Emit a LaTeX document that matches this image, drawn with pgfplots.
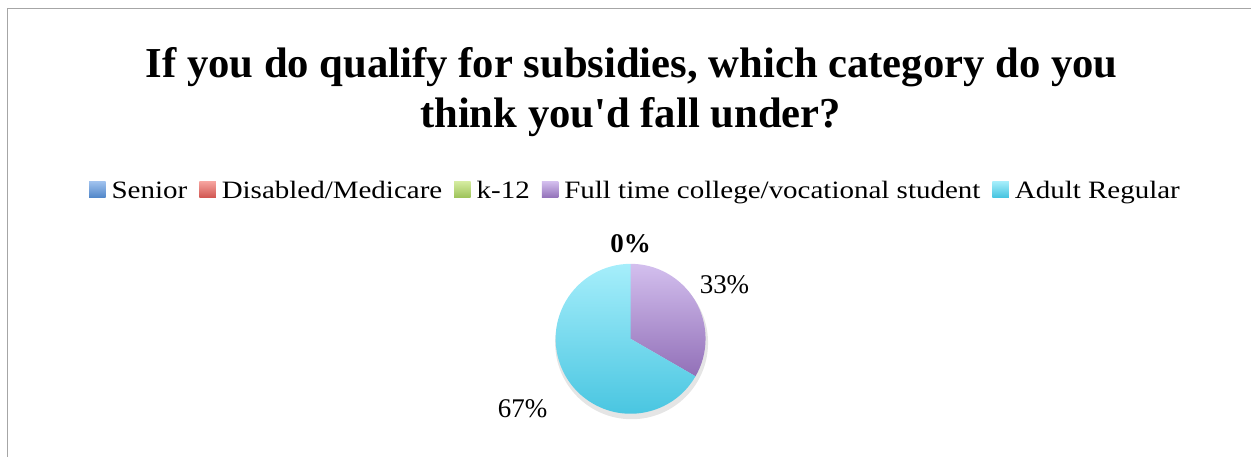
\documentclass[border=0pt]{standalone}
\usepackage{fontspec}
\setmainfont{Liberation Serif}
\newfontfamily\legfont[FakeStretch=1.16]{Liberation Serif}
\usepackage{pgfplots}
\pgfplotsset{compat=1.18}
\usepackage{pgfplotstable}

\definecolor{seniorT}{HTML}{A0C2EE}\definecolor{seniorB}{HTML}{4F85C8}
\definecolor{disT}{HTML}{F6A49F}\definecolor{disB}{HTML}{D0544F}
\definecolor{kT}{HTML}{D5ECA0}\definecolor{kB}{HTML}{9CC258}
\definecolor{fullT}{HTML}{D3BFEE}\definecolor{fullB}{HTML}{9270B8}
\definecolor{adultT}{HTML}{A6EEFB}\definecolor{adultB}{HTML}{43C3DF}
\definecolor{frame}{HTML}{A6A6A6}

\pgfplotstableread{
label value
Senior 0
Disabled 0
k12 0
Fulltime 1
Adult 2
}\piedata

\begin{document}
\begin{tikzpicture}
\pgfplotstablegetelem{0}{value}\of\piedata \pgfmathsetmacro\vSen{\pgfplotsretval}
\pgfplotstablegetelem{1}{value}\of\piedata \pgfmathsetmacro\vDis{\pgfplotsretval}
\pgfplotstablegetelem{2}{value}\of\piedata \pgfmathsetmacro\vK{\pgfplotsretval}
\pgfplotstablegetelem{3}{value}\of\piedata \pgfmathsetmacro\vFull{\pgfplotsretval}
\pgfplotstablegetelem{4}{value}\of\piedata \pgfmathsetmacro\vAdult{\pgfplotsretval}
\pgfmathsetmacro\total{\vSen+\vDis+\vK+\vFull+\vAdult}
\pgfmathsetmacro\aA{90-360*(\vSen+\vDis+\vK)/\total}
\pgfmathsetmacro\aB{\aA-360*\vFull/\total}
\pgfmathsetmacro\aC{\aB-360*\vAdult/\total}
\pgfmathtruncatemacro\pZero{round(100*\vSen/\total)}
\pgfmathtruncatemacro\pFull{round(100*\vFull/\total)}
\pgfmathtruncatemacro\pAdult{round(100*\vAdult/\total)}
\begin{axis}[
  scale only axis, width=1252bp, height=457bp,
  xmin=0, xmax=1252, ymin=0, ymax=457, y dir=reverse,
  hide axis, clip=false,
  legend columns=5,
  legend style={at={(axis cs:89,191)}, anchor=west, draw=none, fill=none,
    inner sep=0pt, font=\legfont\fontsize{25bp}{30bp}\selectfont,
    /tikz/every odd column/.style={column sep=4bp},
    /tikz/every even column/.style={column sep=10bp}},
  legend cell align=left,
]
\path (axis cs:0,0) rectangle (axis cs:1252,457);
\draw[frame, line width=1.6bp] (axis cs:7.5,457) -- (axis cs:7.5,8.5) -- (axis cs:1252,8.5);

\addlegendimage{legend image code/.code={\shade[draw=none,top color=seniorT,bottom color=seniorB] (0bp,-7bp) rectangle (16.5bp,9.5bp);}}
\addlegendentry{Senior}
\addlegendimage{legend image code/.code={\shade[draw=none,top color=disT,bottom color=disB] (0bp,-7bp) rectangle (16.5bp,9.5bp);}}
\addlegendentry{Disabled/Medicare}
\addlegendimage{legend image code/.code={\shade[draw=none,top color=kT,bottom color=kB] (0bp,-7bp) rectangle (16.5bp,9.5bp);}}
\addlegendentry{k-12}
\addlegendimage{legend image code/.code={\shade[draw=none,top color=fullT,bottom color=fullB] (0bp,-7bp) rectangle (16.5bp,9.5bp);}}
\addlegendentry{Full time college/vocational student}
\addlegendimage{legend image code/.code={\shade[draw=none,top color=adultT,bottom color=adultB] (0bp,-7bp) rectangle (16.5bp,9.5bp);}}
\addlegendentry{Adult Regular}

\node[anchor=base, font=\bfseries\fontsize{42.7bp}{48bp}\selectfont] at (axis cs:632,78) {If you do qualify for subsidies, which category do you};
\node[anchor=base, font=\bfseries\fontsize{42.7bp}{48bp}\selectfont] at (axis cs:631,128) {think you\textquotesingle d fall under?};

% shadow
\fill[black, opacity=0.10] (axis cs:632,343) circle[radius=76.5bp];
% slices
\shade[top color=fullT, bottom color=fullB] (axis cs:631,339) -- ++(\aA:75bp) arc[start angle=\aA, end angle=\aB, radius=75bp] -- cycle;
\shade[top color=adultT, bottom color=adultB] (axis cs:631,339) -- ++(\aB:75bp) arc[start angle=\aB, end angle=\aC, radius=75bp] -- cycle;

\node[anchor=base, font=\bfseries\fontsize{27bp}{30bp}\selectfont, inner sep=0pt] at (axis cs:631,253) {\pZero\%};
\node[anchor=base west, font=\fontsize{27bp}{30bp}\selectfont, inner sep=0pt] at (axis cs:700,294) {\pFull\%};
\node[anchor=base west, font=\fontsize{27bp}{30bp}\selectfont, inner sep=0pt] at (axis cs:498,418) {\pAdult\%};
\end{axis}
\end{tikzpicture}
\end{document}
